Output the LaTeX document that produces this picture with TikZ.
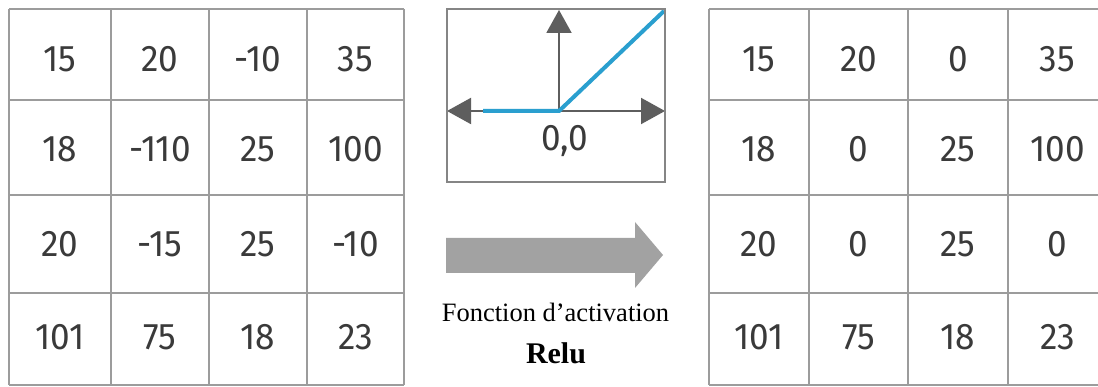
\documentclass[tikz,border=0pt]{standalone}
\usepackage{fontspec}
\setmainfont{Liberation Serif}
\newfontfamily\cellfont[FakeStretch=0.95]{Fira Sans}
\usetikzlibrary{arrows.meta}

\definecolor{gridline}{HTML}{9C9C9C}
\definecolor{numtext}{HTML}{3A3A3A}
\definecolor{axisgray}{HTML}{5E5E5E}
\definecolor{relublue}{HTML}{2A9FCF}
\definecolor{arrowgray}{HTML}{A2A2A2}

\tikzset{
  gridstroke/.style={draw=gridline, line width=2.6pt},
  num/.style={anchor=base, inner sep=0pt, text=numtext,
              font=\cellfont\fontsize{37}{40}\selectfont},
  axisline/.style={draw=axisgray, line width=2pt},
  reluline/.style={draw=relublue, line width=4pt},
  caption/.style={anchor=base, inner sep=0pt, text=black},
}

\begin{document}
\begin{tikzpicture}[x=1pt, y=-1pt]
\useasboundingbox (0,0) rectangle (1098,387);
\fill[white] (0,0) rectangle (1098,387);
\clip (0,0) rectangle (1098,387);

% input feature map
\foreach \x in {9,111,209,307,404}
  \draw[gridstroke] (\x,9) -- (\x,385);
\foreach \y in {9,100,195,293,385}
  \draw[gridstroke] (9,\y) -- (404,\y);

\foreach \row/\by/\a/\b/\c/\d in {1/72/15/20/-10/35, 2/162/18/-110/25/100,
                                  3/257/20/-15/25/-10, 4/350/101/75/18/23} {
  \node[num] (in\row a) at (60,\by) {\a};
  \node[num] (in\row b) at (160,\by) {\b};
  \node[num] (in\row c) at (258,\by) {\c};
  \node[num] (in\row d) at (355.5,\by) {\d};
}

% output feature map after ReLU
\foreach \x in {709,809,908,1008,1107}
  \draw[gridstroke] (\x,9) -- (\x,385);
\foreach \y in {9,100,195,293,385}
  \draw[gridstroke] (709,\y) -- (1107,\y);

\foreach \row/\by/\a/\b/\c/\d in {1/72/15/20/0/35, 2/162/18/0/25/100,
                                  3/257/20/0/25/0, 4/350/101/75/18/23} {
  \node[num] (out\row a) at (759,\by) {\a};
  \node[num] (out\row b) at (858.5,\by) {\b};
  \node[num] (out\row c) at (958,\by) {\c};
  \node[num] (out\row d) at (1057.5,\by) {\d};
}

% ReLU graph
\coordinate (origin) at (559,111);
\coordinate (xneg) at (447,111);
\coordinate (xpos) at (665,111);
\coordinate (ytop) at (559,10);
\coordinate (negstart) at (483,111);
\coordinate (posend) at (664,11);

\draw[axisline, {Triangle[length=24pt, width=26pt]}-{Triangle[length=24pt, width=26pt]}]
  (xneg) -- (xpos);
\draw[axisline, -{Triangle[length=23pt, width=25pt]}] (origin) -- (ytop);
\draw[reluline, line cap=butt, line join=miter] (negstart) -- (origin) -- (posend);
\draw[gridstroke, draw=gridline!85!black] (447,9) rectangle (665,182);
\node[num] (zero) at (565,151) {0,0};

% big arrow
\fill[arrowgray] (446,238) -- (635,238) -- (635,222) -- (663,255)
  -- (635,288) -- (635,273) -- (446,273) -- cycle;

% caption
\node[caption, font=\fontsize{26.5}{30}\selectfont] (fname) at (555.5,322) {Fonction d’activation};
\node[caption, font=\fontsize{30}{34}\selectfont\bfseries] (rname) at (556,363) {Relu};
\end{tikzpicture}
\end{document}
